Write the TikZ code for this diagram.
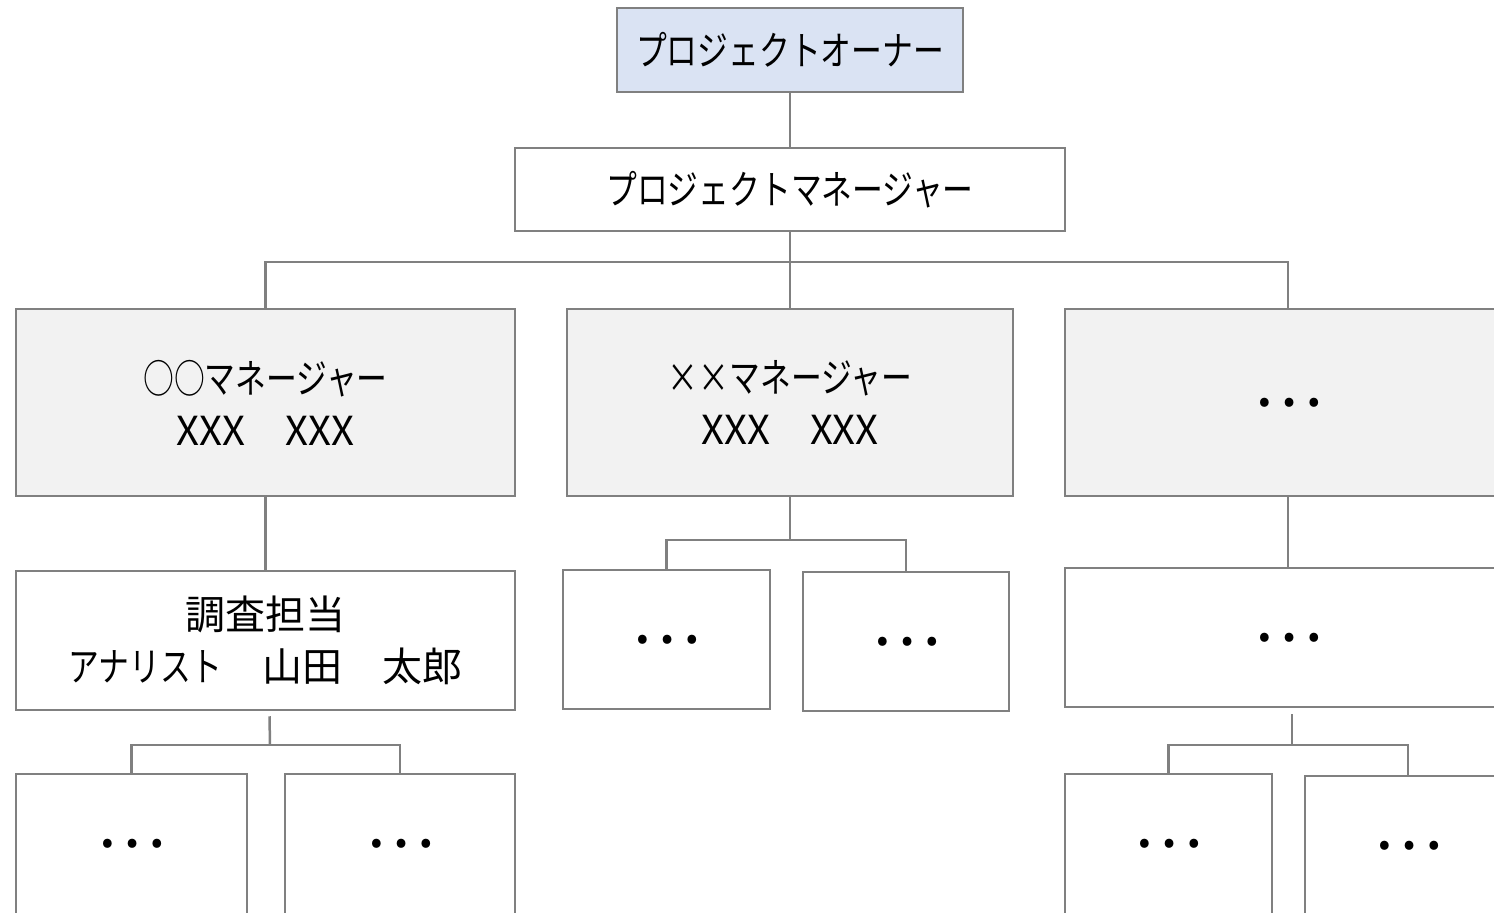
\documentclass[tikz,border=0pt]{standalone}
\usepackage{fontspec}
\setmainfont{Noto Sans CJK JP}
\newfontfamily\kana[FakeStretch=0.77]{Noto Sans CJK JP}
\definecolor{lc}{RGB}{128,128,128}
\definecolor{ownerfill}{RGB}{218,227,243}
\definecolor{mgrfill}{RGB}{242,242,242}
\newcommand\tdots{{\fontsize{66}{66}\selectfont …}}
\tikzset{
  box/.style={draw=lc, line width=2.5pt, inner sep=0pt, align=center, fill=white,
              font=\fontsize{40}{52}\selectfont},
  ownerbox/.style={box, fill=ownerfill},
  mgrbox/.style={box, fill=mgrfill},
  conn/.style={draw=lc, line width=2.5pt}
}
\begin{document}
\begin{tikzpicture}[x=1pt,y=-1pt]
\useasboundingbox (0,0) rectangle (1494,913);
\clip (0,0) rectangle (1494,913);
% junctions
\coordinate (j0) at (790,262);
\coordinate (j1) at (270,745);
\coordinate (j2) at (790,540);
\coordinate (j3) at (1292,745);
% nodes
\node[ownerbox, minimum width=346pt, minimum height=84pt] (own) at (790,50) {\kana プロジェクトオーナー};
\node[box, minimum width=550pt, minimum height=83pt] (pm) at (790,189.5) {\kana プロジェクトマネージャー};
\node[mgrbox, minimum width=499pt, minimum height=187pt] (m1) at (265.5,402.5) {{\kana ○○マネージャー}\\XXX　XXX};
\node[mgrbox, minimum width=446pt, minimum height=187pt] (m2) at (790,402.5) {{\kana ××マネージャー}\\XXX　XXX};
\node[mgrbox, minimum width=446pt, minimum height=187pt] (m3) at (1288,402.5) {\tdots};
\node[box, minimum width=499pt, minimum height=139pt] (a1) at (265.5,640.5) {調査担当\\{\kana アナリスト}　山田　太郎};
\node[box, minimum width=231pt, minimum height=140pt] (b1) at (131.5,844) {\tdots};
\node[box, minimum width=230pt, minimum height=140pt] (b2) at (400,844) {\tdots};
\node[box, minimum width=207pt, minimum height=139pt] (c1) at (666.5,639.5) {\tdots};
\node[box, minimum width=206pt, minimum height=139pt] (c2) at (906,641.5) {\tdots};
\node[box, minimum width=446pt, minimum height=139pt] (r1) at (1288,637.5) {\tdots};
\node[box, minimum width=207pt, minimum height=140pt] (d1) at (1168.5,844) {\tdots};
\node[box, minimum width=206pt, minimum height=140pt] (d2) at (1408,846) {\tdots};
% connectors
\draw[conn] (own.south) -- (pm.north);
\draw[conn] (pm.south) -- (m2.north);
\draw[conn] (m1.north) |- (j0) -| (m3.north);
\draw[conn] (m1.south) -- (a1.north);
\draw[conn] ([xshift=4pt,yshift=-5pt]a1.south) -- (j1);
\draw[conn] (b1.north) |- (j1) -| (b2.north);
\draw[conn] (m2.south) -- (j2);
\draw[conn] (c1.north) |- (j2) -| (c2.north);
\draw[conn] (m3.south) -- (r1.north);
\draw[conn] ([xshift=4pt,yshift=-6pt]r1.south) -- (j3);
\draw[conn] (d1.north) |- (j3) -| (d2.north);
\end{tikzpicture}
\end{document}
